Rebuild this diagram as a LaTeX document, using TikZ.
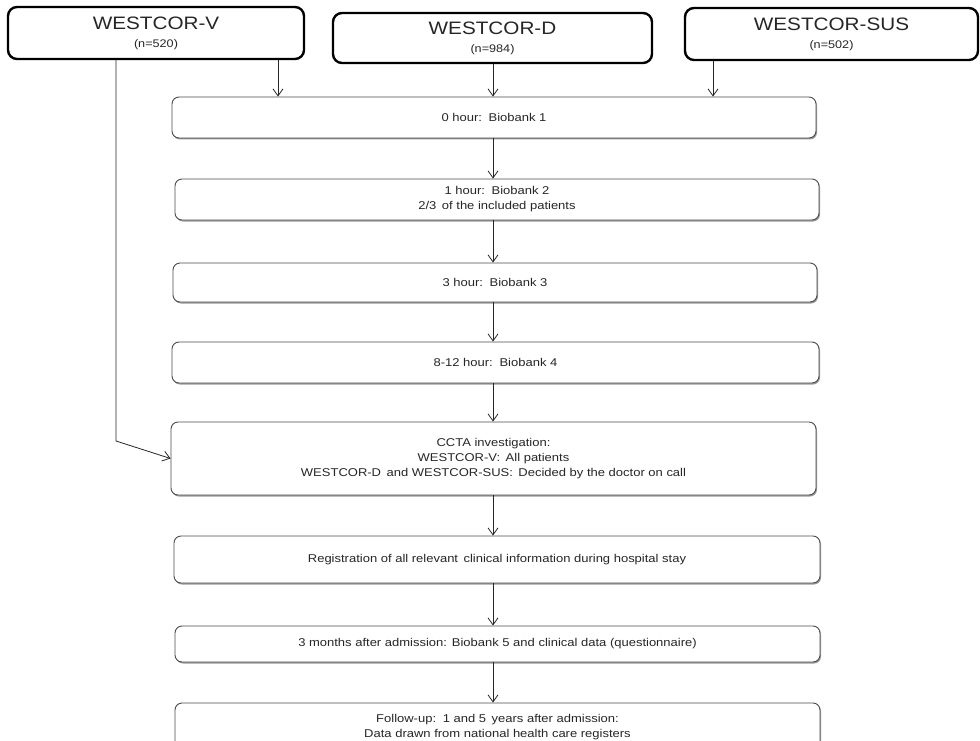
\documentclass[tikz,border=0pt]{standalone}
\usepackage{fontspec}
\setmainfont[FakeStretch=1.15]{Liberation Sans}
\usetikzlibrary{arrows.meta,shadows}

\tikzset{
  topbox/.style={draw=black, line width=2.4pt, rounded corners=9pt, fill=white,
    align=center, text=black!85, inner sep=0pt},
  stepbox/.style={draw=black!70, line width=0.9pt, rounded corners=7pt, fill=white,
    align=center, inner sep=0pt, text=black!85, font=\fontsize{11.3}{15}\selectfont,
    drop shadow={shadow xshift=1pt, shadow yshift=-1.5pt, fill=black!40, opacity=1}},
  arr/.style={draw=black!85, line width=0.8pt, -{Straight Barb[length=7pt,width=10pt]}},
}
\newcommand{\cohort}[2]{{\fontsize{18}{20}\selectfont #1}\\[6pt]{\fontsize{11}{12}\selectfont (n=#2)}}

\begin{document}
\begin{tikzpicture}[x=1pt,y=-1pt]
  \useasboundingbox (0,0) rectangle (980,741);

  % cohorts
  \node[topbox, minimum width=296pt, minimum height=52pt] (v)   at (156,33)   {\cohort{WESTCOR-V}{520}};
  \node[topbox, minimum width=319pt, minimum height=50pt] (d)   at (492.5,38) {\cohort{WESTCOR-D}{984}};
  \node[topbox, minimum width=293pt, minimum height=52pt] (sus) at (831.5,34) {\cohort{WESTCOR-SUS}{502}};

  % sampling and follow-up steps
  \node[stepbox, minimum width=644pt, minimum height=41pt] (b1) at (494,117.5) {0 hour: \,Biobank 1};
  \node[stepbox, minimum width=644pt, minimum height=41pt] (b2) at (497,199.5) {1 hour: \,Biobank 2\\2/3 \,of the included patients};
  \node[stepbox, minimum width=644pt, minimum height=39pt] (b3) at (495,282.5) {3 hour: \,Biobank 3};
  \node[stepbox, minimum width=647pt, minimum height=41pt] (b4) at (495.5,362.5) {8-12 hour: \,Biobank 4};
  \node[stepbox, minimum width=645pt, minimum height=73pt] (cc) at (493.5,458.5)
    {CCTA investigation:\\WESTCOR-V: \,All patients\\WESTCOR-D \,and WESTCOR-SUS: \,Decided by the doctor on call};
  \node[stepbox, minimum width=646pt, minimum height=47pt] (reg) at (497,559.5)
    {Registration of all relevant \,clinical information during hospital stay};
  \node[stepbox, minimum width=645pt, minimum height=36pt] (m3) at (497.5,644)
    {3 months after admission: Biobank 5 and clinical data (questionnaire)};
  \node[stepbox, minimum width=645pt, minimum height=49pt] (fu) at (497.5,727.5)
    {Follow-up: \,1 and 5 \,years after admission:\\Data drawn from national health care registers};

  % connector guide points
  \coordinate (vx)   at (278,0);
  \coordinate (mid)  at (493,0);
  \coordinate (sx)   at (713,0);
  \coordinate (bend) at (116,441);

  % connectors
  \draw[arr] (v.south -| vx) -- (b1.north -| vx);
  \draw[arr] (d.south -| mid) -- (b1.north -| mid);
  \draw[arr] (sus.south -| sx) -- (b1.north -| sx);
  \draw[arr] (b1.south -| mid) -- (b2.north -| mid);
  \draw[arr] (b2.south -| mid) -- (b3.north -| mid);
  \draw[arr] (b3.south -| mid) -- (b4.north -| mid);
  \draw[arr] (b4.south -| mid) -- (cc.north -| mid);
  \draw[arr] (cc.south -| mid) -- (reg.north -| mid);
  \draw[arr] (reg.south -| mid) -- (m3.north -| mid);
  \draw[arr] (m3.south -| mid) -- (fu.north -| mid);
  \draw[arr] (v.south -| bend) -- (bend) -- (cc.west);
\end{tikzpicture}
\end{document}
